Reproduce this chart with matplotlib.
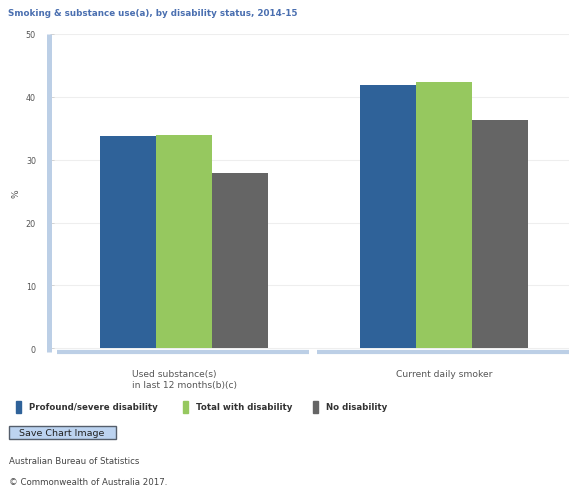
import numpy as np
import matplotlib.pyplot as plt
from matplotlib.patches import Rectangle, FancyBboxPatch

# Survey results (%)
categories = ['Used substance(s)\nin last 12 months(b)(c)', 'Current daily smoker']
series_names = ['Profound/severe disability', 'Total with disability', 'No disability']
profound = [33.8, 41.9]
total_disability = [33.9, 42.4]
no_disability = [27.9, 36.3]
colors = ['#2f6299', '#96c85f', '#656565']

title = 'Smoking & substance use(a), by disability status, 2014-15'
y_ticks = [0, 10, 20, 30, 40, 50]

fig = plt.figure(figsize=(5.69, 4.89), dpi=100)
fig.patch.set_facecolor('white')
ax = fig.add_axes([54 / 569, 1 - 353 / 489, 1 - 54 / 569, (353 - 35) / 489])

x = np.arange(len(categories))
width = 0.215
for i, (vals, col) in enumerate(zip([profound, total_disability, no_disability], colors)):
    ax.bar(x + (i - 1) * width, vals, width, color=col, zorder=3)

ax.set_xlim(-0.5, 1.48)
ax.set_ylim(-0.6, 50)
ax.set_yticks(y_ticks)
ax.set_yticklabels([str(t) for t in y_ticks], fontsize=5.8, color='#555555')
ax.tick_params(axis='y', length=3, width=0.6, color='#cccccc', pad=10)
ax.tick_params(axis='x', length=0)
ax.set_xticks(x)
ax.set_xticklabels(['', ''])
ax.grid(axis='y', color='#eeeeee', linewidth=0.8, zorder=0)
for s in ax.spines.values():
    s.set_visible(False)

# thick axis bars
ax.plot([-0.5 - 0.018, -0.5 - 0.018], [-0.6, 50], color='#bccfe6', lw=3.6,
        clip_on=False, zorder=4, solid_capstyle='butt')
ax.plot([-0.49, 0.48], [-0.6, -0.6], color='#bccfe6', lw=3.0, clip_on=False,
        zorder=4, solid_capstyle='butt')
ax.plot([0.51, 1.48], [-0.6, -0.6], color='#bccfe6', lw=3.0, clip_on=False,
        zorder=4, solid_capstyle='butt')

# category labels
for xi, lab in zip(x, categories):
    ax.text(xi, -3.3, lab, ha='center', va='top', fontsize=6.6,
            color='#555555', linespacing=1.35, multialignment='left')

ax.set_ylabel('%', fontsize=6.5, color='#555555', labelpad=4)

fig.text(8 / 569, 1 - 13 / 489, title, fontsize=6.3, fontweight='bold',
         color='#4a6fb0', va='center')

# legend row
legend_x = [16, 183, 313]
for lx, name, col in zip(legend_x, series_names, colors):
    fig.patches.append(Rectangle((lx / 569, 1 - 414 / 489), 5 / 569, 12 / 489,
                                 transform=fig.transFigure, color=col))
    fig.text((lx + 13) / 569, 1 - 408 / 489, name, fontsize=6.2, fontweight='bold',
             color='#333333', va='center')

# button
fig.patches.append(FancyBboxPatch((9 / 569, 1 - 440 / 489), 107 / 569, 13 / 489,
                                  boxstyle='square,pad=0', transform=fig.transFigure,
                                  facecolor='#bcd3f0', edgecolor='#555e6b', lw=1.0))
fig.text(62 / 569, 1 - 433.5 / 489, 'Save Chart Image', fontsize=6.8,
         color='#222222', ha='center', va='center')

fig.text(9 / 569, 1 - 462 / 489, 'Australian Bureau of Statistics', fontsize=6.2,
         color='#444444', va='center')
fig.text(9 / 569, 1 - 483 / 489, '\u00a9 Commonwealth of Australia 2017.', fontsize=6.2,
         color='#444444', va='center')

fig.savefig('out.png', dpi=100)
